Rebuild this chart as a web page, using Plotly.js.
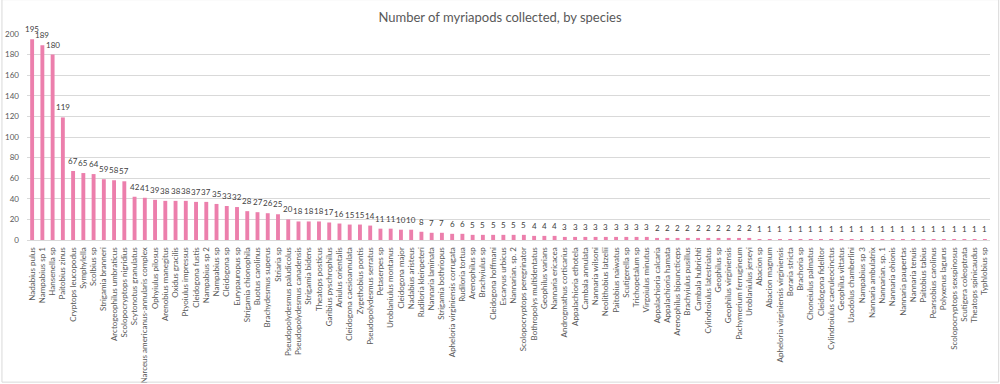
<!DOCTYPE html>
<html>
<head>
<meta charset="utf-8">
<script src="https://cdn.plot.ly/plotly-3.0.1.min.js"></script>
<style>html,body{margin:0;padding:0;background:#fff;}#chart{width:1000px;height:384px;}</style>
</head>
<body>
<div id="chart"></div>
<script>
const species = [
 "Nadabius pulus","Nampabius sp 1","Hansenella sp","Paitobius zinus","Cryptops leucopodus","Symphylella","Scolbius sp","Strigamia branneri","Arctogeophilus umbraticus","Scolopocryptops nigridius",
 "Scytonotus granulatus","Narceus americanus-annularis complex","Ophyiulus pilosus","Arenobius manegitus","Oxidus gracilis","Ptyoiulus impressus","Cleidogona fustis","Nampabius sp 2","Nampabius sp","Cleidogona sp",
 "Eurypauropus sp","Strigamia chionophila","Buotus carolinus","Brachydesmus superus","Striaria sp","Pseudopolydesmus paludicolus","Pseudopolydesmus canadensis","Strigamia bidens","Theatops posticus","Garibius pyschrophilus",
 "Aniulus orientalis","Cleidogona caesioannulata","Zygethobius pontis","Pseudopolydesmus serratus","Petaserpes sp","Uroblaniulus montanus","Cleidogona major","Nadabius aristeus","Rudiloria kleinpeteri","Nannaria laminata",
 "Strigamia bothriopus","Apheloria virginiensis corrugata","Rudiloria tortua","Arenophilus sp","Brachyiulus sp","Cleidogona hoffmani","Escaryus urbicus","Nannarian. sp. 2","Scolopocryptops peregrinator","Bothropolys multidentatus",
 "Geophilus varians","Nannaria ericacea","Androgmathus corticarius","Appalachioria ethotela","Cambala annulata","Nannaria wilsoni","Neolithobius latzelii","Paitobius naiwatus","Scutigerella sp","Trichopetalum sp",
 "Virgoiulus minutus","Appalachioria calcaria","Appalachioria hamata","Arenophilus bipuncticeps","Brachyiulus pusillus","Cambala hubrichti","Cylindroiulus latestriatus","Geophilus sp","Geophilus virginiensis","Pachymerium ferrugineum",
 "Uroblaniulus jerseyi","Abacion sp","Abacion magnum","Apheloria virginiensis virginiensis","Boraria stricta","Brachoria sp","Choneiulus palmatus","Cleidogona fidelitor","Cylindroiulus caeruleocinctus","Geophilus vittatus",
 "Uaodolus chamberlini","Nampabius sp 3","Nannaria ambulatrix","Nannarian. sp. 1","Nannaria ohionis","Nannaria paupertas","Nannaria tenuis","Paitobius tabius","Pearsobius carolinus","Polyxenus lagurus",
 "Scolopocryptops sexspinosus","Scutigera coleoptrata","Theatops spinicaudus","Typhlobius sp"
];
const counts = [
 195,189,180,119,67,65,64,59,58,57,
 42,41,39,38,38,38,37,37,35,33,
 32,28,27,26,25,20,18,18,18,17,
 16,15,15,14,11,11,10,10,8,7,
 7,6,6,5,5,5,5,5,5,4,
 4,4,3,3,3,3,3,3,3,3,
 3,2,2,2,2,2,2,2,2,2,
 2,1,1,1,1,1,1,1,1,1,
 1,1,1,1,1,1,1,1,1,1,
 1,1,1,1
];
const yTicks = [0,20,40,60,80,100,120,140,160,180,200];

const FONT = "Lato, 'Liberation Sans', sans-serif";
const bars = {
  type: 'bar',
  x: species,
  y: counts,
  marker: {color: '#EC7FAC'},
  hoverinfo: 'x+y'
};
const valueLabels = species.map((s, i) => ({
  x: s, y: counts[i], xref: 'x', yref: 'y',
  text: String(counts[i]), showarrow: false,
  xanchor: 'center', yanchor: 'bottom', yshift: 3,
  font: {family: FONT, size: 8, color: '#404040'}
}));
const layout = {
  width: 1000, height: 384,
  margin: {l: 27, r: 10, t: 34, b: 144, pad: 0},
  paper_bgcolor: '#ffffff', plot_bgcolor: '#ffffff',
  title: {text: 'Number of myriapods collected, by species', x: 0.5, xanchor: 'center', y: 0.955, yanchor: 'middle',
          font: {family: FONT, size: 13, color: '#595959'}},
  bargap: 0.62,
  showlegend: false,
  annotations: valueLabels,
  xaxis: {
    type: 'category', range: [-0.5, species.length - 0.5], autorange: false,
    tickmode: 'array', tickvals: species, ticktext: species,
    tickangle: -90, tickfont: {family: FONT, size: 8, color: '#595959'}, ticklabelstandoff: 3,
    showgrid: false, zeroline: false, showline: true, linecolor: '#d9d9d9', linewidth: 1, ticks: '', automargin: false
  },
  yaxis: {
    range: [0, 200], autorange: false, tickvals: yTicks, ticktext: yTicks.map(String),
    tickfont: {family: FONT, size: 8, color: '#595959'}, ticklabelstandoff: 7,
    showgrid: true, gridcolor: '#d9d9d9', gridwidth: 1, zeroline: false, showline: false, ticks: '', automargin: false
  },
  shapes: [{type: 'rect', xref: 'paper', yref: 'paper', x0: -0.026, x1: 1.009, y0: -0.69, y1: 1.167,
            line: {color: '#d9d9d9', width: 1}, fillcolor: 'rgba(0,0,0,0)'}]
};
Plotly.newPlot('chart', [bars], layout, {displayModeBar: false, staticPlot: true});
</script>
</body>
</html>
